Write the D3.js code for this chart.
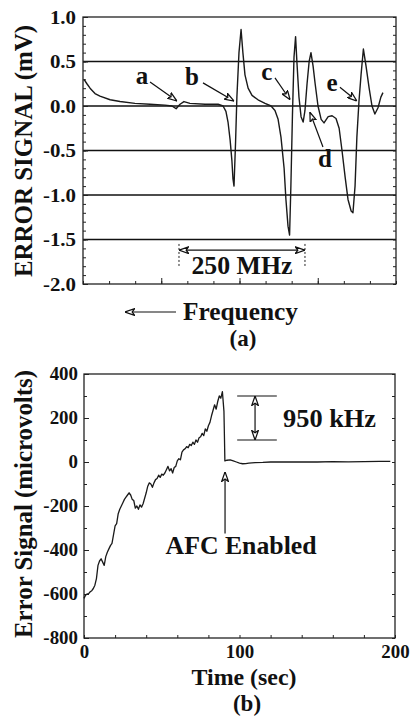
<!DOCTYPE html>
<html>
<head>
<meta charset="utf-8">
<script src="https://cdn.jsdelivr.net/npm/d3@7"></script>
<style>
  body { margin: 0; background: #fff; }
  text { font-family: "Liberation Serif", "Times New Roman", serif; font-weight: bold; fill: #111; }
</style>
</head>
<body>
<svg id="fig"></svg>
<script>
// ---- data, panel (a): error signal vs frequency (arbitrary sweep units)
var freqPos = [0.04,0.15,0.27,0.46,0.65,1.04,1.42,1.99,2.57,3.14,3.41,3.57,3.72,3.87,4.10,4.68,5.18,5.37,5.48,5.56,5.64,5.71,5.75,5.79,5.85,5.90,5.98,6.06,6.13,6.21,6.33,6.48,6.71,6.98,7.21,7.36,7.48,7.59,7.71,7.78,7.86,7.92,7.97,8.03,8.09,8.15,8.20,8.28,8.36,8.44,8.51,8.59,8.67,8.74,8.82,8.90,9.01,9.13,9.24,9.40,9.55,9.70,9.82,9.93,10.05,10.16,10.28,10.35,10.43,10.50,10.58,10.66,10.75,10.85,10.97,11.08,11.19,11.31,11.42,11.50];
var errorMv = [0.30,0.25,0.20,0.14,0.11,0.07,0.05,0.03,0.02,0.01,0.00,-0.03,0.02,0.05,0.03,0.02,0.02,0.00,-0.06,-0.18,-0.38,-0.62,-0.82,-0.90,-0.40,0.10,0.60,0.86,0.60,0.35,0.20,0.12,0.07,0.03,0.00,-0.05,-0.15,-0.35,-0.70,-1.05,-1.35,-1.45,-0.90,-0.10,0.55,0.78,0.50,0.10,-0.12,-0.18,-0.05,0.25,0.50,0.60,0.45,0.25,0.00,-0.15,-0.19,-0.12,-0.11,-0.14,-0.25,-0.50,-0.80,-1.05,-1.18,-1.20,-0.90,-0.35,0.05,0.35,0.64,0.45,0.20,0.00,-0.09,-0.02,0.10,0.15];
var errTicks = [-2.0,-1.5,-1.0,-0.5,0.0,0.5,1.0];
var gridVals = [-1.5,-1.0,-0.5,0.0,0.5];
var peakLetters = ["a","b","c","d","e"];
var letterAt = [[2.26,0.33],[4.18,0.32],[7.05,0.38],[9.28,-0.60],[9.55,0.25]];
var arrowFrom = [[2.57,0.27],[4.60,0.26],[7.36,0.315],[9.20,-0.46],[9.85,0.21]];
var arrowTo = [[3.60,0.056],[5.79,0.056],[7.94,0.07],[8.70,-0.07],[10.50,0.056]];
var spanMHz = [3.68,8.51];

// ---- data, panel (b): error signal vs time
var timeSec = [0,1,2,3,4,5,6,7,8,9,10,11,12,13,14,15,16,17,18,19,20,21,22,23,24,25,26,27,28,29,30,31,32,33,34,35,36,37,38,39,40,41,42,43,44,45,46,47,48,49,50,51,52,53,54,55,56,57,58,59,60,61,62,63,64,65,66,67,68,69,70,71,72,73,74,75,76,77,78,79,80,81,82,83,84,85,86,87,88,89,90,90.3,90.6,92,94,96,98,100,102,104,106,110,115,120,130,140,150,160,170,180,190,197];
var errorUv = [-620,-605,-600,-598,-590,-585,-575,-560,-530,-470,-450,-440,-455,-470,-430,-410,-395,-380,-370,-330,-290,-280,-235,-215,-200,-185,-170,-160,-150,-140,-150,-170,-175,-210,-200,-215,-195,-205,-190,-165,-140,-110,-95,-100,-115,-95,-80,-75,-60,-70,-55,-60,-50,-35,-20,-40,-30,-50,-25,-20,5,15,10,45,55,60,70,65,80,75,90,80,100,90,110,115,130,120,150,140,165,180,210,235,260,240,275,300,290,320,230,120,5,8,10,5,0,-5,-8,-7,-5,-3,-2,0,0,1,0,2,1,2,3,3];
var uvTicks = [-800,-600,-400,-200,0,200,400];
var timeTicks = [0,100,200];
var spanKHz = [100,300];

var svg = d3.select("#fig").attr("width",410).attr("height",716);
svg.append("rect").attr("width",410).attr("height",716).attr("fill","#fff");

var defs = svg.append("defs");
defs.append("marker")
    .attr("id","head")
    .attr("viewBox","0 0 10 8")
    .attr("refX",10).attr("refY",4)
    .attr("markerWidth",8).attr("markerHeight",6.5)
    .attr("orient","auto-start-reverse")
  .append("path")
    .attr("d","M0,0.5 L10,4 L0,7.5 L2.5,4 Z")
    .attr("fill","#fff").attr("stroke","#111").attr("stroke-width",1.3);

var stretch = function(sel, sx){
  sel.each(function(){
    var w = this.getComputedTextLength();
    d3.select(this).attr("textLength", w*sx).attr("lengthAdjust","spacingAndGlyphs");
  });
};

// ================= panel (a)
var xA = d3.scaleLinear().domain([0,12]).range([83,396]);
var yA = d3.scaleLinear().domain([-2,1]).range([284,17]);
var gA = svg.append("g").attr("id","panelA");

gA.selectAll("line.grid").data(gridVals).enter().append("line")
  .attr("class","grid")
  .attr("x1",xA(0)).attr("x2",xA(12))
  .attr("y1",function(d){return yA(d);}).attr("y2",function(d){return yA(d);})
  .attr("stroke","#111").attr("stroke-width",1.3);

var minorA = d3.range(-20,11).map(function(d){return d/10;});
gA.append("g").attr("transform","translate("+xA(0)+",0)")
  .call(d3.axisLeft(yA).tickValues(minorA).tickSize(-3).tickFormat(""));
gA.append("g").attr("transform","translate("+xA(12)+",0)")
  .call(d3.axisRight(yA).tickValues(minorA).tickSize(-3).tickFormat(""));
var leftA = gA.append("g").attr("transform","translate("+xA(0)+",0)")
  .call(d3.axisLeft(yA).tickValues(errTicks).tickSize(-5).tickPadding(7)
        .tickFormat(function(d){return d.toFixed(1);}));
leftA.selectAll("text").attr("font-size",19);
stretch(leftA.selectAll("text"),1.1);
gA.append("g").attr("transform","translate(0,"+yA(-2)+")")
  .call(d3.axisBottom(xA).tickValues(d3.range(0,13)).tickSize(-3).tickFormat(""));
gA.append("g").attr("transform","translate(0,"+yA(-2)+")")
  .call(d3.axisBottom(xA).tickValues([3,6,9]).tickSize(-6).tickFormat(""));
gA.selectAll(".domain").remove();
gA.selectAll(".tick line").attr("stroke","#222");

gA.append("rect").attr("x",xA(0)).attr("y",yA(1))
  .attr("width",xA(12)-xA(0)).attr("height",yA(-2)-yA(1))
  .attr("fill","none").attr("stroke","#222").attr("stroke-width",1.3);

var lineA = d3.line().x(function(d){return xA(d[0]);}).y(function(d){return yA(d[1]);});
gA.append("path").datum(d3.zip(freqPos,errorMv))
  .attr("d",lineA).attr("fill","none").attr("stroke","#1a1a1a").attr("stroke-width",1.4)
  .attr("stroke-linejoin","round");

gA.selectAll("line.pk").data(peakLetters).enter().append("line")
  .attr("class","pk")
  .attr("x1",function(d,i){return xA(arrowFrom[i][0]);}).attr("y1",function(d,i){return yA(arrowFrom[i][1]);})
  .attr("x2",function(d,i){return xA(arrowTo[i][0]);}).attr("y2",function(d,i){return yA(arrowTo[i][1]);})
  .attr("stroke","#111").attr("stroke-width",1.2).attr("marker-end","url(#head)");
gA.selectAll("text.pk").data(peakLetters).enter().append("text")
  .attr("class","pk")
  .attr("x",function(d,i){return xA(letterAt[i][0]);})
  .attr("y",function(d,i){return yA(letterAt[i][1]);})
  .attr("dy","0.3em").attr("text-anchor","middle").attr("font-size",25)
  .text(function(d){return d;});

spanMHz.forEach(function(v){
  gA.append("line").attr("x1",xA(v)).attr("x2",xA(v))
    .attr("y1",yA(-1.55)).attr("y2",yA(-1.8))
    .attr("stroke","#222").attr("stroke-width",1).attr("stroke-dasharray","2,2");
});
gA.append("line").attr("x1",xA(spanMHz[0])).attr("x2",xA(spanMHz[1]))
  .attr("y1",yA(-1.62)).attr("y2",yA(-1.62))
  .attr("stroke","#111").attr("stroke-width",1.2)
  .attr("marker-start","url(#head)").attr("marker-end","url(#head)");
gA.append("text").attr("x",xA((spanMHz[0]+spanMHz[1])/2)).attr("y",yA(-1.89))
  .attr("text-anchor","middle").attr("font-size",25).attr("textLength",101).attr("lengthAdjust","spacingAndGlyphs")
  .text("250 MHz");

gA.append("text").attr("transform","translate(32,151) rotate(-90)")
  .attr("text-anchor","middle").attr("font-size",25).attr("textLength",252).attr("lengthAdjust","spacingAndGlyphs")
  .text("ERROR SIGNAL (mV)");

gA.append("line").attr("x1",176).attr("x2",125).attr("y1",312).attr("y2",312)
  .attr("stroke","#111").attr("stroke-width",1.2).attr("marker-end","url(#head)");
gA.append("text").attr("x",183).attr("y",320).attr("font-size",25)
  .attr("textLength",115).attr("lengthAdjust","spacingAndGlyphs").text("Frequency");
gA.append("text").attr("x",243).attr("y",346).attr("text-anchor","middle").attr("font-size",23).text("(a)");

// ================= panel (b)
var xB = d3.scaleLinear().domain([0,200]).range([84,395]);
var yB = d3.scaleLinear().domain([-800,400]).range([638,374]);
var gB = svg.append("g").attr("id","panelB");

var minorB = d3.range(-800,401,100);
gB.append("g").attr("transform","translate("+xB(0)+",0)")
  .call(d3.axisLeft(yB).tickValues(minorB).tickSize(-3).tickFormat(""));
gB.append("g").attr("transform","translate("+xB(200)+",0)")
  .call(d3.axisRight(yB).tickValues(minorB).tickSize(-3).tickFormat(""));
var leftB = gB.append("g").attr("transform","translate("+xB(0)+",0)")
  .call(d3.axisLeft(yB).tickValues(uvTicks).tickSize(-5).tickPadding(6)
        .tickFormat(function(d){return d<0 ? "-"+Math.abs(d) : String(d);}));
leftB.selectAll("text").attr("font-size",18);
stretch(leftB.selectAll("text"),1.05);
gB.append("g").attr("transform","translate(0,"+yB(-800)+")")
  .call(d3.axisBottom(xB).tickValues(d3.range(0,201,20)).tickSize(-3).tickFormat(""));
var botB = gB.append("g").attr("transform","translate(0,"+yB(-800)+")")
  .call(d3.axisBottom(xB).tickValues(timeTicks).tickSize(0).tickPadding(7).tickFormat(d3.format("d")));
botB.selectAll("text").attr("font-size",18);
stretch(botB.selectAll("text"),1.05);
gB.selectAll(".domain").remove();
gB.selectAll(".tick line").attr("stroke","#222");

gB.append("rect").attr("x",xB(0)).attr("y",yB(400))
  .attr("width",xB(200)-xB(0)).attr("height",yB(-800)-yB(400))
  .attr("fill","none").attr("stroke","#222").attr("stroke-width",1.3);

var lineB = d3.line().x(function(d){return xB(d[0]);}).y(function(d){return yB(d[1]);});
gB.append("path").datum(d3.zip(timeSec,errorUv))
  .attr("d",lineB).attr("fill","none").attr("stroke","#1a1a1a").attr("stroke-width",1.3)
  .attr("stroke-linejoin","round");

spanKHz.forEach(function(v){
  gB.append("line").attr("x1",xB(98.5)).attr("x2",xB(124))
    .attr("y1",yB(v)).attr("y2",yB(v)).attr("stroke","#111").attr("stroke-width",1.2);
});
gB.append("line").attr("x1",xB(110)).attr("x2",xB(110))
  .attr("y1",yB(spanKHz[0])).attr("y2",yB(spanKHz[1]))
  .attr("stroke","#111").attr("stroke-width",1.2)
  .attr("marker-start","url(#head)").attr("marker-end","url(#head)");
gB.append("text").attr("x",xB(128)).attr("y",yB(200)).attr("dy","0.33em")
  .attr("font-size",26).attr("textLength",93).attr("lengthAdjust","spacingAndGlyphs").text("950 kHz");

gB.append("line").attr("x1",xB(90.7)).attr("x2",xB(90.7))
  .attr("y1",yB(-325)).attr("y2",yB(-45))
  .attr("stroke","#111").attr("stroke-width",1.2).attr("marker-end","url(#head)");
gB.append("text").attr("x",xB(101)).attr("y",554).attr("text-anchor","middle")
  .attr("font-size",25).attr("textLength",151).attr("lengthAdjust","spacingAndGlyphs").text("AFC Enabled");

gB.append("text").attr("transform","translate(32,504) rotate(-90)")
  .attr("text-anchor","middle").attr("font-size",25).attr("textLength",268).attr("lengthAdjust","spacingAndGlyphs")
  .text("Error Signal (microvolts)");
gB.append("text").attr("x",244).attr("y",685).attr("text-anchor","middle").attr("font-size",24)
  .attr("textLength",105).attr("lengthAdjust","spacingAndGlyphs").text("Time (sec)");
gB.append("text").attr("x",247).attr("y",711).attr("text-anchor","middle").attr("font-size",23).text("(b)");
</script>
</body>
</html>
